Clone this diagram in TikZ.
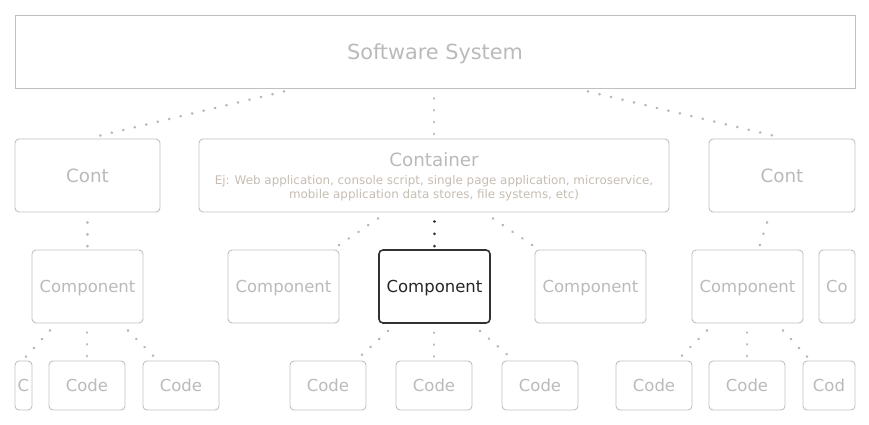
\documentclass[tikz,border=0pt]{standalone}
\usepackage{fontspec}
\setmainfont{DejaVu Sans}
\definecolor{boxgray}{RGB}{192,192,192}
\definecolor{txtgray}{RGB}{186,186,186}
\definecolor{subgray}{RGB}{198,188,178}
\definecolor{dotgray}{RGB}{182,182,182}
\definecolor{darkline}{RGB}{50,50,50}
\newcommand{\subtxt}{\color{subgray}\fontsize{11.9}{14.3}\selectfont}
\begin{document}
\begin{tikzpicture}[x=1pt,y=-1pt,
	box/.style={draw=boxgray,line width=0.9pt,rounded corners=4pt,inner sep=0pt,text=txtgray,text depth=0pt,font=\fontsize{16.5}{20}\selectfont},
	big/.style={box,font=\fontsize{18.3}{22}\selectfont},
	sel/.style={box,draw=darkline,line width=1.6pt,text=black!85},
	dots/.style={dotgray,line width=2.8pt,line cap=round,dash pattern=on 0.1pt off 11.7pt,shorten >=-2pt}]
	\useasboundingbox (0,0) rectangle (869,425);
	% level 1
	\node[big,sharp corners,font=\fontsize{20.8}{24}\selectfont,minimum width=840pt,minimum height=73pt] (sys) at (435,51.5) {Software System};
	% level 2
	\node[big,minimum width=145pt,minimum height=73pt] (contl) at (87.5,175.5) {Cont};
	\node[draw=boxgray,line width=0.9pt,rounded corners=4pt,minimum width=470pt,minimum height=73pt,align=center,inner sep=0pt,font=\subtxt] (cont) at (434,175.5) {{\color{txtgray}\fontsize{18.3}{22}\selectfont\rule{0pt}{17pt}Container}\\[3pt]
		Ej: Web application, console script, single page application, microservice,\\ mobile application data stores, file systems, etc)};
	\node[big,minimum width=146pt,minimum height=73pt] (contr) at (782,175.5) {Cont};
	% level 3
	\node[box,minimum width=111pt,minimum height=73pt] (comp1) at (87.5,286.5) {Component};
	\node[box,minimum width=111pt,minimum height=73pt] (comp2) at (283.5,286.5) {Component};
	\node[sel,minimum width=111pt,minimum height=73pt] (comp3) at (434.5,286.5) {Component};
	\node[box,minimum width=111pt,minimum height=73pt] (comp4) at (590.5,286.5) {Component};
	\node[box,minimum width=111pt,minimum height=73pt] (comp5) at (747.5,286.5) {Component};
	\node[box,minimum width=36pt,minimum height=73pt] (comp6) at (837,286.5) {Co};
	% level 4
	\node[box,minimum width=17pt,minimum height=49pt] (code1) at (23.5,385.5) {C};
	\node[box,minimum width=76pt,minimum height=49pt] (code2) at (87,385.5) {Code};
	\node[box,minimum width=76pt,minimum height=49pt] (code3) at (181,385.5) {Code};
	\node[box,minimum width=76pt,minimum height=49pt] (code4) at (328,385.5) {Code};
	\node[box,minimum width=76pt,minimum height=49pt] (code5) at (434,385.5) {Code};
	\node[box,minimum width=76pt,minimum height=49pt] (code6) at (540,385.5) {Code};
	\node[box,minimum width=76pt,minimum height=49pt] (code7) at (654,385.5) {Code};
	\node[box,minimum width=76pt,minimum height=49pt] (code8) at (747,385.5) {Code};
	\node[box,minimum width=52pt,minimum height=49pt] (code9) at (829,385.5) {Cod};
	% dotted links
	\draw[dots] ([xshift=-151pt,yshift=-3pt]sys.south) -- ([xshift=8.5pt,yshift=2pt]contl.north);
	\draw[dots] ([xshift=-1pt,yshift=-10pt]sys.south) -- ([yshift=5pt]cont.north);
	\draw[dots] ([xshift=153pt,yshift=-3pt]sys.south) -- ([xshift=-5pt,yshift=2pt]contr.north);
	\draw[dots] ([yshift=-10pt]contl.south) -- ([yshift=4pt]comp1.north);
	\draw[dots] ([xshift=-56pt,yshift=-6pt]cont.south) -- ([xshift=55pt,yshift=4pt]comp2.north);
	\draw[dots,darkline,dash pattern=on 0.1pt off 12.2pt] ([xshift=0.5pt,yshift=-9pt]cont.south) -- ([yshift=4pt]comp3.north);
	\draw[dots] ([xshift=59pt,yshift=-6pt]cont.south) -- ([xshift=-57.5pt,yshift=4pt]comp4.north);
	\draw[dots] ([xshift=-15pt,yshift=-10pt]contr.south) -- ([xshift=12.5pt,yshift=5pt]comp5.north);
	\draw[dots] ([xshift=-37.5pt,yshift=-7pt]comp1.south) -- ([xshift=2.5pt,yshift=4pt]code1.north);
	\draw[dots] ([xshift=-0.5pt,yshift=-9pt]comp1.south) -- ([yshift=5pt]code2.north);
	\draw[dots] ([xshift=40.5pt,yshift=-7pt]comp1.south) -- ([xshift=-28pt,yshift=5pt]code3.north);
	\draw[dots] ([xshift=-46.5pt,yshift=-7pt]comp3.south) -- ([xshift=34pt,yshift=6pt]code4.north);
	\draw[dots] ([xshift=-0.5pt,yshift=-9pt]comp3.south) -- ([yshift=5pt]code5.north);
	\draw[dots] ([xshift=45.5pt,yshift=-7pt]comp3.south) -- ([xshift=-33pt,yshift=6pt]code6.north);
	\draw[dots] ([xshift=-40.5pt,yshift=-7pt]comp5.south) -- ([xshift=28pt,yshift=5pt]code7.north);
	\draw[dots] ([xshift=-0.5pt,yshift=-9pt]comp5.south) -- ([yshift=5pt]code8.north);
	\draw[dots] ([xshift=35.5pt,yshift=-7pt]comp5.south) -- ([xshift=-22pt,yshift=4pt]code9.north);
\end{tikzpicture}
\end{document}
